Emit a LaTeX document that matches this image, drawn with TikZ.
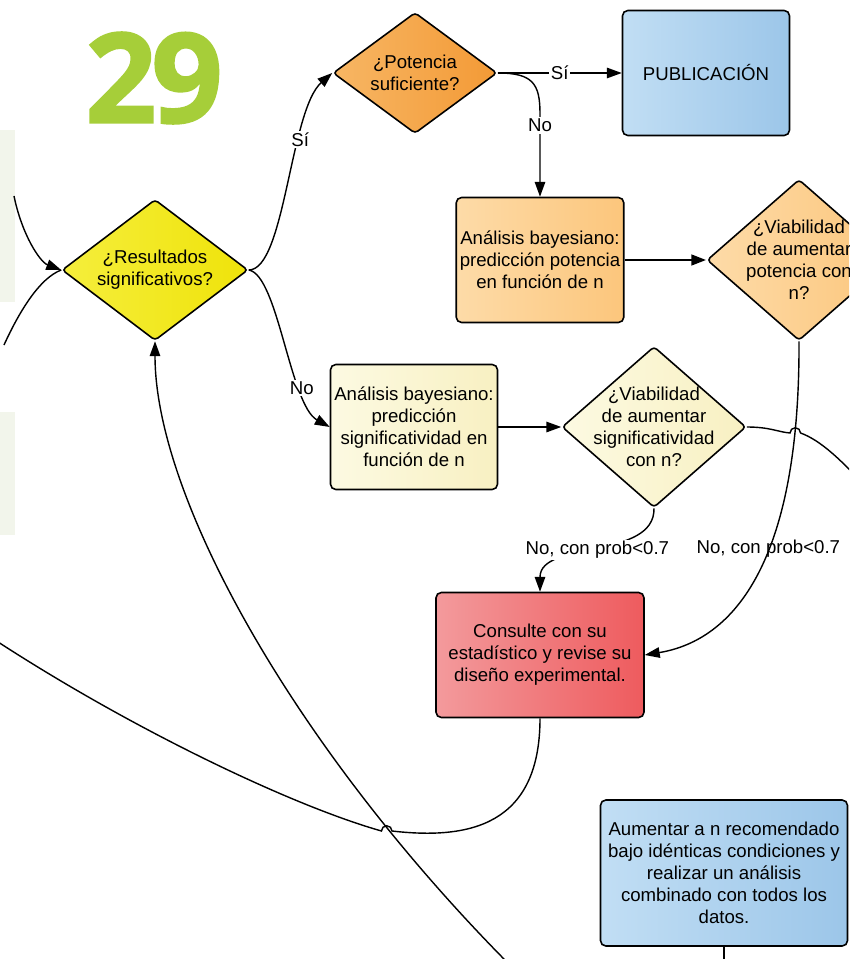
\documentclass[tikz,border=0pt]{standalone}
\usepackage{fontspec}
\setmainfont{Liberation Sans}
\newfontfamily\bignum{Open Sans}[BoldFeatures={FakeBold=1.6}]
\usepackage{tikz}
\usetikzlibrary{positioning, shapes.geometric, arrows.meta, calc}
\definecolor{flowGreen}{HTML}{A6CE39}
\definecolor{paleGreen}{HTML}{F2F5EB}
\definecolor{resLight}{HTML}{F5EE3C}
\definecolor{resDark}{HTML}{EFE30A}
\definecolor{potLight}{HTML}{F7B664}
\definecolor{potDark}{HTML}{F39A36}
\definecolor{pubLight}{HTML}{C1DEF4}
\definecolor{pubDark}{HTML}{9CC6E9}
\definecolor{bayLight}{HTML}{FDDBA8}
\definecolor{bayDark}{HTML}{FCC67C}
\definecolor{sigLight}{HTML}{FCFAE2}
\definecolor{sigDark}{HTML}{F8F0C2}
\definecolor{conLight}{HTML}{F39A9C}
\definecolor{conDark}{HTML}{EE5B5E}

\begin{document}
\begin{tikzpicture}[x=0.02cm, y=-0.02cm,
  font=\fontsize{10.6}{12.6}\selectfont,
  box/.style={draw=black, line width=0.9pt, rounded corners=3pt, align=center,
    inner sep=2pt, minimum width=3.34cm, minimum height=2.5cm},
  decision/.style={diamond, draw=black, line width=0.9pt, rounded corners=2pt,
    align=center, inner sep=-8pt, aspect=1.15},
  link/.style={-{Triangle[length=8.5pt, width=6pt]}, line width=0.8pt},
  lbl/.style={fill=white, inner sep=1pt}]

\useasboundingbox (0,0) rectangle (849,959);
\clip (0,0) rectangle (849,959);

% side panels
\fill[paleGreen] (0,130) rectangle (15,302);
\fill[paleGreen] (0,412) rectangle (15,535);

\node[text=flowGreen, font=\bignum\bfseries\fontsize{71}{71}\selectfont] (num) at (154,78)
  {2\kern-3pt9};

\node[decision, left color=resLight, right color=resDark,
      minimum width=3.72cm, minimum height=2.82cm] (res) at (155,270)
  {¿Resultados\\significativos?};

\node[decision, left color=potLight, right color=potDark,
      minimum width=3.28cm, minimum height=2.42cm] (pot) at (415,73)
  {¿Potencia\\suficiente?};

\node[box, left color=pubLight, right color=pubDark] (pub) at (706,73)
  {PUBLICACIÓN};

\node[box, left color=bayLight, right color=bayDark] (bay) at (540,260)
  {Análisis bayesiano:\\predicción potencia\\en función de n};

\node[decision, left color=bayLight, right color=bayDark,
      minimum width=3.68cm, minimum height=3.22cm] (viaPot) at (799,260)
  {¿Viabilidad\\de aumentar\\potencia con\\n?};

\node[box, left color=sigLight, right color=sigDark] (baySig) at (414,427)
  {Análisis bayesiano:\\predicción\\significatividad en\\función de n};

\node[decision, left color=sigLight, right color=sigDark,
      minimum width=3.68cm, minimum height=3.22cm] (viaSig) at (654,427)
  {¿Viabilidad\\de aumentar\\significatividad\\con n?};

\node[box, left color=conLight, right color=conDark, minimum width=4.16cm] (con) at (540,655)
  {Consulte con su\\estadístico y revise su\\diseño experimental.};

\node[box, left color=pubLight, right color=pubDark,
      minimum width=4.94cm, minimum height=2.92cm] (aum) at (724,873)
  {Aumentar a n recomendado\\bajo idénticas condiciones y\\realizar un análisis\\combinado con todos los\\datos.};

% loose ends leaving the page
\coordinate (inTop) at (14,196);
\coordinate (inBot) at (4,345);
\coordinate (lowIn) at (530,985);
\coordinate (sigOut) at (870,492);
\coordinate (conOut) at (-5,640);
\coordinate (aumOut) at (724,985);

\draw[link] (inTop) .. controls (22,235) and (40,262) .. (res.west);
\draw[line width=0.8pt] (inBot) .. controls (20,310) and (40,278) .. (res.west);

\draw[link] (res.east) .. controls (285,270) and (290,110) .. node[lbl, pos=0.67] {Sí} (pot.west);
\draw[link] (res.east) .. controls (278,275) and (290,405) .. node[lbl, pos=0.72] {No} (baySig.west);

\draw[link] (pot.east) -- node[lbl] {Sí} (pub.west);
\draw[link] (pot.east) .. controls +(35,0) and +(0,-30) .. ($(bay.north)+(0,-83)$)
  -- node[lbl, pos=0.14] {No} (bay.north);

\draw[link, line width=1.6pt] (bay.east) -- (viaPot.west);
\draw[link] (baySig.east) -- (viaSig.west);

\draw[link] (viaSig.south) .. controls (655,560) and (540,540) .. node[lbl] {No, con prob<0.7} (con.north);
\draw[link] (viaPot.south) .. controls (800,560) and (735,640) .. node[pos=0.42] {No, con prob<0.7} (con.east);

\draw[line width=0.8pt] (viaSig.east) .. controls (770,427) and (778,432) .. (790,433)
  arc[start angle=180, end angle=0, radius=3pt] .. controls (820,440) and (842,460) .. (sigOut);

\draw[line width=0.8pt] (con.south) .. controls (540,825) and (470,840) .. (392,831)
  arc[start angle=0, end angle=180, radius=3pt] .. controls (290,805) and (130,728) .. (conOut);

\draw[link] (lowIn) .. controls (300,760) and (155,500) .. (res.south);

\draw[line width=0.8pt] (aum.south) -- (aumOut);

\end{tikzpicture}
\end{document}
